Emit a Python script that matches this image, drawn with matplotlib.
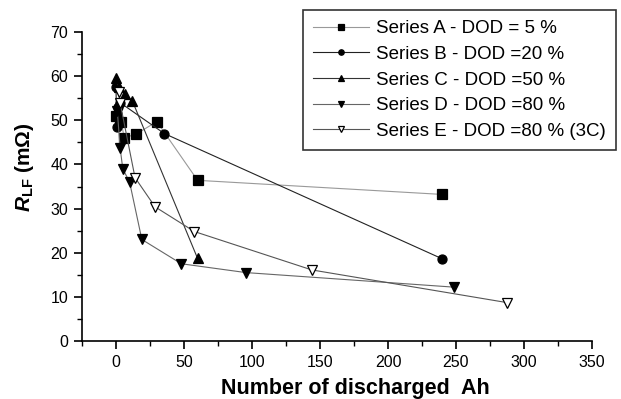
import matplotlib
matplotlib.use("Agg")
import matplotlib.pyplot as plt
from matplotlib.ticker import MultipleLocator

plt.rcParams['font.family'] = ['Liberation Sans', 'DejaVu Sans']
plt.rcParams['mathtext.fontset'] = 'custom'
plt.rcParams['mathtext.rm'] = 'Liberation Sans:bold'
plt.rcParams['mathtext.bf'] = 'Liberation Sans:bold'
plt.rcParams['mathtext.it'] = 'Liberation Sans:bold:italic'

# Data
a_x = [0, 4, 6, 15, 30, 60, 240]
a_y = [51, 49.5, 46, 46.9, 49.7, 36.4, 33.2]
b_x = [0, 0.5, 1, 1.5, 2, 3, 35.5, 240]
b_y = [57.5, 48.5, 51.5, 53, 50, 54, 47, 18.6]
c_x = [0, 2, 6.5, 12, 60]
c_y = [59.6, 57.5, 56, 54.4, 18.7]
d_x = [1, 3, 5, 10, 19, 48, 95.5, 248.5]
d_y = [52, 43.8, 39, 36, 23, 17.5, 15.5, 12.2]
e_x = [2, 3, 14, 28.7, 57.6, 144, 287.5]
e_y = [56.3, 54, 37, 30.4, 24.8, 16.1, 8.7]
labels = ["Series A - DOD = 5 %", "Series B - DOD =20 %", "Series C - DOD =50 %",
          "Series D - DOD =80 %", "Series E - DOD =80 % (3C)"]

fig = plt.figure(figsize=(6.21, 3.99), dpi=100)
ax = fig.add_axes([82/621, 58/399, 510/621, 309/399])

series = [
    (a_x, a_y, 's', 'black', '#999999'),
    (b_x, b_y, 'o', 'black', '#222222'),
    (c_x, c_y, '^', 'black', '#333333'),
    (d_x, d_y, 'v', 'black', '#666666'),
    (e_x, e_y, 'v', 'white', '#555555'),
]
handles = []
for (x, y, m, fc, lc), lab in zip(series, labels):
    h, = ax.plot(x, y, color=lc, lw=0.8, marker=m, ms=6.5, mfc=fc, mec='black',
                 mew=0.9, label=lab)
    handles.append(h)

ax.set_xlim(-25, 350)
ax.set_ylim(0, 70)
ax.xaxis.set_major_locator(MultipleLocator(50))
ax.xaxis.set_minor_locator(MultipleLocator(25))
ax.yaxis.set_major_locator(MultipleLocator(10))
ax.yaxis.set_minor_locator(MultipleLocator(5))
for s in ['top', 'right']:
    ax.spines[s].set_visible(False)
for s in ['left', 'bottom']:
    ax.spines[s].set_linewidth(1.2)
ax.tick_params(which='major', direction='out', length=6, width=1.2, labelsize=11.5, pad=4)
ax.tick_params(which='minor', direction='out', length=3.5, width=1.0)

fig.text(355/621, 5/399, "Number of discharged  Ah", fontsize=15.5, fontweight='bold',
         ha='center', va='baseline')
fig.text(25/621, 1 - 167/399, r"$\mathit{R}_{\mathrm{LF}}$ (m$\Omega$)", fontsize=15,
         fontweight='bold', rotation=90, ha='center', va='center')

leg = ax.legend(handles=handles, loc='upper right', bbox_to_anchor=(616/621, 1 - 10/399),
                bbox_transform=fig.transFigure, fontsize=13.5, frameon=True, fancybox=False,
                handlelength=3.0, handletextpad=0.35, labelspacing=0.45, borderpad=0.55,
                borderaxespad=0, markerscale=0.6)
leg.get_frame().set_edgecolor('black')
leg.get_frame().set_linewidth(1.2)

fig.savefig("out.png", dpi=100)
